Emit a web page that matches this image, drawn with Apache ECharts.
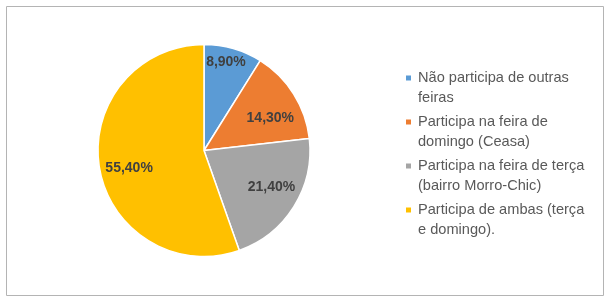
<!DOCTYPE html>
<html><head><meta charset="utf-8">
<script src="https://cdn.jsdelivr.net/npm/echarts@6/dist/echarts.min.js"></script>
<style>html,body{margin:0;padding:0;background:#fff}#c{width:610px;height:303px}</style>
</head><body><div id="c"></div>
<script>
var categories = ['Não participa de outras feiras','Participa na feira de domingo (Ceasa)','Participa na feira de terça (bairro Morro-Chic)','Participa de ambas (terça e domingo).'];
var legendText = ['Não participa de outras\nfeiras','Participa na feira de\ndomingo (Ceasa)','Participa na feira de terça\n(bairro Morro-Chic)','Participa de ambas (terça\ne domingo).'];
var values = [8.9, 14.3, 21.4, 55.4];
var valueLabels = ['8,90%','14,30%','21,40%','55,40%'];
var colors = ['#5B9BD5','#ED7D31','#A5A5A5','#FFC000'];

var labelOffsets = [[1,-15],[2,8],[3,-4],[0,5]];
var chart = echarts.init(document.getElementById('c'));
var data = categories.map(function(n,i){return {name:n, value:values[i]};});
chart.setOption({
  animation:false,
  color: colors,
  graphic:[{type:'rect', shape:{x:6.5,y:6.5,width:597,height:289}, style:{fill:'none', stroke:'#b4b4b4', lineWidth:1}, silent:true}],
  legend:{
    orient:'vertical', left:401, top:63, itemGap:4,
    icon:'path://M0,0L5,0L5,5L0,5Z M5,25L5,25',
    itemWidth:5, itemHeight:25,
    itemStyle:{borderWidth:0},
    data: categories,
    formatter:function(n){return legendText[categories.indexOf(n)];},
    textStyle:{fontFamily:'Liberation Sans', fontSize:14.6, color:'#595959', lineHeight:20, padding:[0,0,0,2]}
  },
  series:[{
    type:'pie', center:[204,150.5], radius:[0,106], startAngle:90, clockwise:true,
    itemStyle:{borderColor:'#fff', borderWidth:1.5},
    label:{show:false}, labelLine:{show:false}, emphasis:{disabled:true},
    data:data
  },{
    type:'pie', center:[204,150.5], radius:[40,106], startAngle:90, clockwise:true, silent:true,
    legendHoverLink:false,
    itemStyle:{color:'rgba(0,0,0,0)', borderWidth:0},
    label:{show:true, position:'inside', fontFamily:'Liberation Sans', fontSize:14, fontWeight:'bold', color:'#404040',
      formatter:function(p){return valueLabels[p.dataIndex];}},
    labelLine:{show:false}, emphasis:{disabled:true},
    data:data.map(function(d,i){return {name:d.name+' ', value:d.value, label:{offset:labelOffsets[i]}};})
  }]
});
</script></body></html>
